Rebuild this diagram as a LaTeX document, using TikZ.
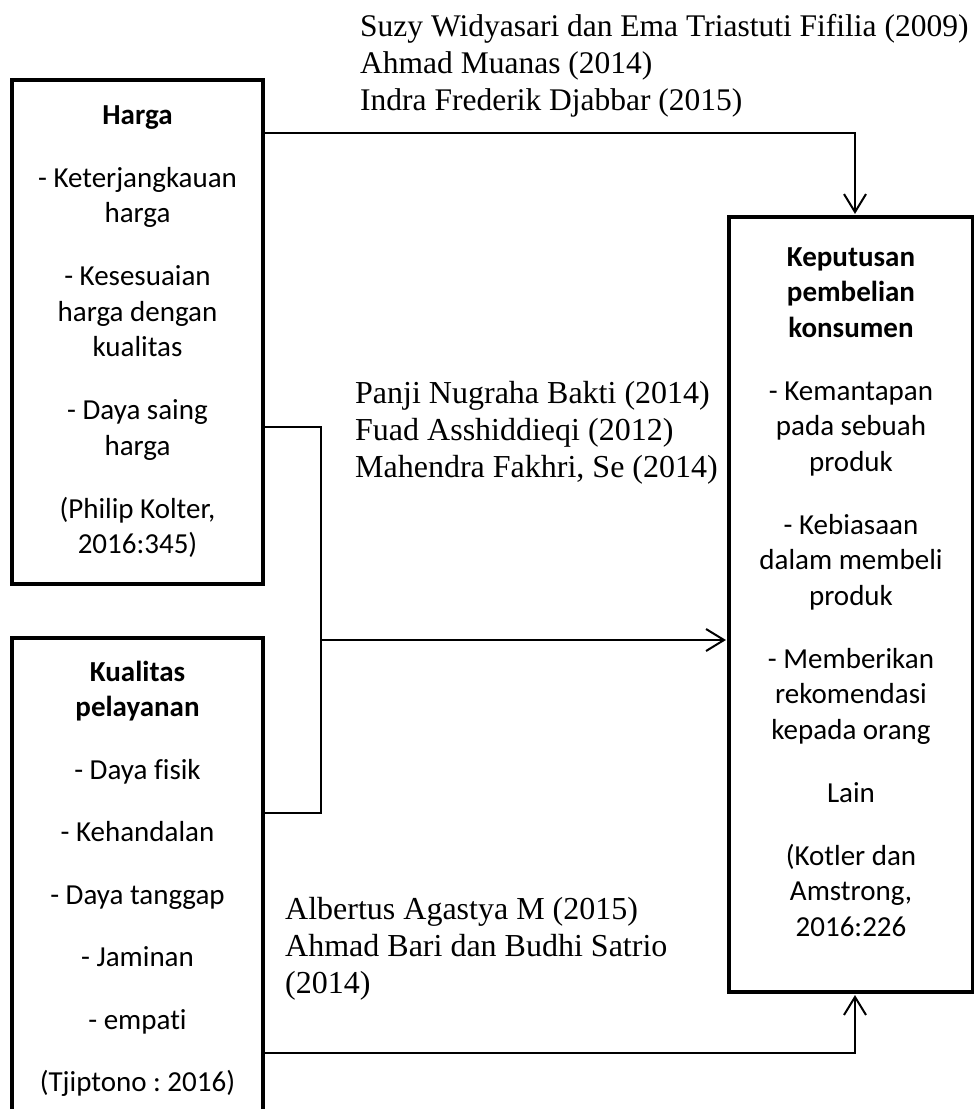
\documentclass[tikz,border=0pt]{standalone}
\usepackage{fontspec}
\setmainfont{Liberation Serif}
\newfontfamily\calfont[Ligatures=NoCommon]{Carlito}
\usetikzlibrary{arrows.meta}
\frenchspacing
\tikzset{
  boxstyle/.style={draw=black, line width=4.5pt, rectangle, inner sep=0pt},
  conn/.style={draw=black, line width=2pt, line cap=rect},
  arr/.style={conn, -{Straight Barb[length=18pt,width=22pt,line width=2pt]}, shorten >=0.8pt},
  boxtext/.style={anchor=base, inner sep=0pt, font=\calfont\fontsize{29}{35.5}\selectfont},
  reftext/.style={anchor=base west, inner sep=0pt, font=\fontsize{32}{37}\selectfont},
}
\begin{document}
\begin{tikzpicture}[x=1pt, y=-1pt]
\fill[white] (0,0) rectangle (974,1109);
\clip (0,0) rectangle (974,1109);
\useasboundingbox (0,0) rectangle (974,1109);

% boxes
\node[boxstyle, minimum width=251pt, minimum height=504pt] (harga) at (137.5,332) {};
\node[boxstyle, minimum width=251pt, minimum height=482pt] (kualitas) at (137.5,879) {};
\node[boxstyle, minimum width=244pt, minimum height=775pt] (keputusan) at (851,604.5) {};

% box texts
\node[boxtext] (hargatxt) at (137.5,124) {\begin{tabular}[t]{@{}c@{}}
\textbf{Harga}\\[27.5pt]
- Keterjangkauan\\ harga\\[27.5pt]
- Kesesuaian\\ harga dengan\\ kualitas\\[27.5pt]
- Daya saing\\ harga\\[27.5pt]
(Philip Kolter,\\ 2016:345)
\end{tabular}};

\node[boxtext] (kualitastxt) at (137.5,681) {\begin{tabular}[t]{@{}c@{}}
\textbf{Kualitas}\\ \textbf{pelayanan}\\[27pt]
- Daya fisik\\[27pt]
- Kehandalan\\[27pt]
- Daya tanggap\\[27pt]
- Jaminan\\[27pt]
- empati\\[27pt]
(Tjiptono : 2016)
\end{tabular}};

\node[boxtext] (keputusantxt) at (851,266) {\begin{tabular}[t]{@{}c@{}}
\textbf{Keputusan}\\ \textbf{pembelian}\\ \textbf{konsumen}\\[27.5pt]
- Kemantapan\\ pada sebuah\\ produk\\[27.5pt]
- Kebiasaan\\ dalam membeli\\ produk\\[27.5pt]
- Memberikan\\ rekomendasi\\ kepada orang\\[27.5pt]
Lain\\[27.5pt]
(Kotler dan\\ Amstrong,\\ 2016:226
\end{tabular}};

% reference texts
\node[reftext, font=\fontsize{31.5}{37}\selectfont] (reftop) at (360,36) {\begin{tabular}[t]{@{}l@{}}
Suzy Widyasari dan Ema Triastuti Fifilia (2009)\\
Ahmad Muanas (2014)\\
Indra Frederik Djabbar (2015)
\end{tabular}};
\node[reftext] (refmid) at (355,403) {\begin{tabular}[t]{@{}l@{}}
Panji Nugraha Bakti (2014)\\
Fuad Asshiddieqi (2012)\\
Mahendra Fakhri, Se (2014)
\end{tabular}};
\node[reftext] (refbot) at (285,919) {\begin{tabular}[t]{@{}l@{}}
Albertus Agastya M (2015)\\
Ahmad Bari dan Budhi Satrio\\
(2014)
\end{tabular}};

% connectors
\coordinate (topcorner) at (855,133);
\coordinate (botcorner) at (855,1053);
\coordinate (jtop) at (321,427);
\coordinate (jmid) at (321,640);
\coordinate (jbot) at (321,813);

\draw[conn] (harga.east |- topcorner) -- (topcorner);
\draw[arr] (topcorner) -- (topcorner |- keputusan.north);

\draw[conn] (harga.east |- jtop) -- (jtop) -- (jbot) -- (kualitas.east |- jbot);
\draw[arr] (jmid) -- (keputusan.west |- jmid);

\draw[conn] (kualitas.east |- botcorner) -- (botcorner);
\draw[arr] (botcorner) -- (botcorner |- keputusan.south);
\end{tikzpicture}
\end{document}
